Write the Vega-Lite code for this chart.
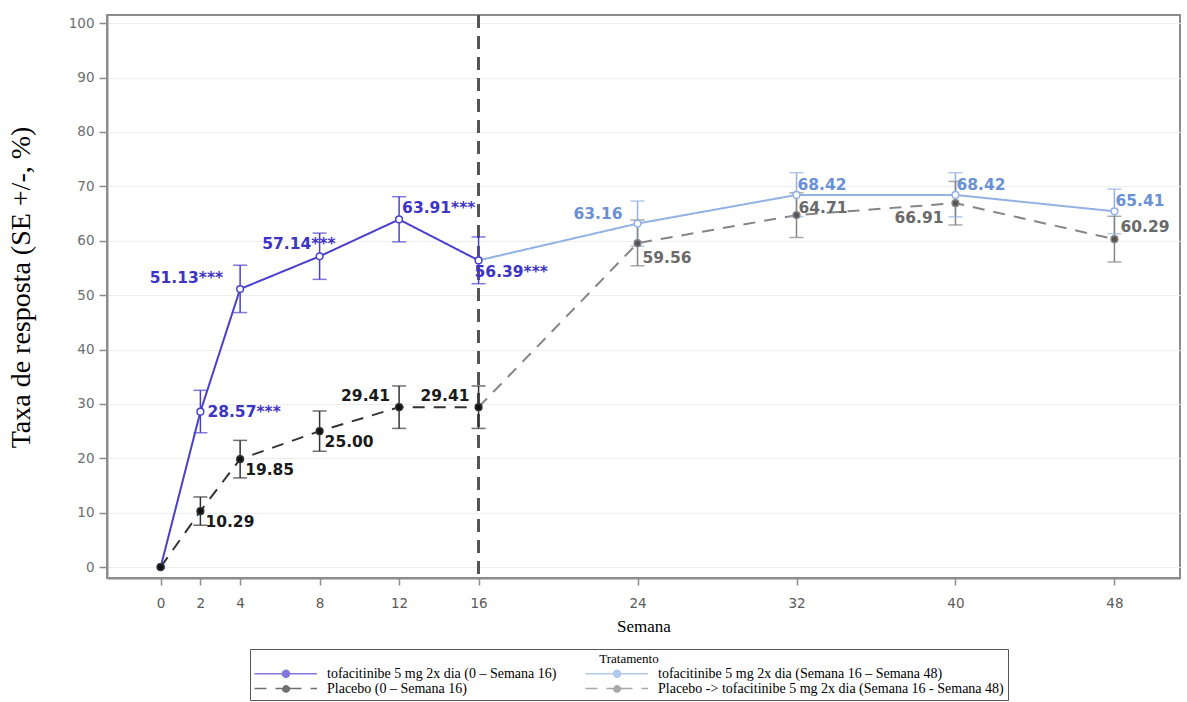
{
  "$schema": "https://vega.github.io/schema/vega-lite/v6.json",
  "autosize": {"type": "none"},
  "width": 1073,
  "height": 563,
  "padding": {"left": 107, "top": 15, "right": 7, "bottom": 124},
  "background": "white",
  "config": {
    "view": {"stroke": "#8c8c8c", "strokeWidth": 2},
    "axisY": {
      "domainColor": "#8c8c8c", "domainWidth": 2, "tickColor": "#8c8c8c", "tickSize": 8, "tickWidth": 1.5,
      "labelFont": "DejaVu Sans", "labelFontSize": 13.5, "labelColor": "#6e6e6e", "labelPadding": 5,
      "grid": true, "gridColor": "#eeeeee", "gridWidth": 1,
      "titleFont": "Liberation Serif", "titleFontSize": 28, "titleFontWeight": "normal", "titleColor": "#000000", "titlePadding": 33, "titleY": 272
    },
    "axisX": {
      "domainColor": "#8c8c8c", "domainWidth": 2, "tickColor": "#8c8c8c", "tickSize": 7, "tickWidth": 1.5,
      "labelFont": "DejaVu Sans", "labelFontSize": 13.5, "labelColor": "#5a5a5a", "labelPadding": 11,
      "grid": false,
      "titleFont": "Liberation Serif", "titleFontSize": 17, "titleFontWeight": "normal", "titleColor": "#000000", "titlePadding": 9
    }
  },
  "data": {
    "values": [
      {"id": "T1", "tratamento": "tofacitinibe 5 mg 2x dia (0 – Semana 16)", "semana": 0, "taxa": 0, "inf": null, "sup": null, "rotulo": null},
      {"id": "T1", "tratamento": "tofacitinibe 5 mg 2x dia (0 – Semana 16)", "semana": 2, "taxa": 28.57, "inf": 24.7, "sup": 32.5, "rotulo": "28.57***"},
      {"id": "T1", "tratamento": "tofacitinibe 5 mg 2x dia (0 – Semana 16)", "semana": 4, "taxa": 51.13, "inf": 46.8, "sup": 55.5, "rotulo": "51.13***"},
      {"id": "T1", "tratamento": "tofacitinibe 5 mg 2x dia (0 – Semana 16)", "semana": 8, "taxa": 57.14, "inf": 52.9, "sup": 61.4, "rotulo": "57.14***"},
      {"id": "T1", "tratamento": "tofacitinibe 5 mg 2x dia (0 – Semana 16)", "semana": 12, "taxa": 63.91, "inf": 59.8, "sup": 68.1, "rotulo": "63.91***"},
      {"id": "T1", "tratamento": "tofacitinibe 5 mg 2x dia (0 – Semana 16)", "semana": 16, "taxa": 56.39, "inf": 52.1, "sup": 60.7, "rotulo": "56.39***"},
      {"id": "P1", "tratamento": "Placebo (0 – Semana 16)", "semana": 0, "taxa": 0, "inf": null, "sup": null, "rotulo": null},
      {"id": "P1", "tratamento": "Placebo (0 – Semana 16)", "semana": 2, "taxa": 10.29, "inf": 7.7, "sup": 12.9, "rotulo": "10.29"},
      {"id": "P1", "tratamento": "Placebo (0 – Semana 16)", "semana": 4, "taxa": 19.85, "inf": 16.4, "sup": 23.3, "rotulo": "19.85"},
      {"id": "P1", "tratamento": "Placebo (0 – Semana 16)", "semana": 8, "taxa": 25.0, "inf": 21.3, "sup": 28.7, "rotulo": "25.00"},
      {"id": "P1", "tratamento": "Placebo (0 – Semana 16)", "semana": 12, "taxa": 29.41, "inf": 25.5, "sup": 33.3, "rotulo": "29.41"},
      {"id": "P1", "tratamento": "Placebo (0 – Semana 16)", "semana": 16, "taxa": 29.41, "inf": 25.5, "sup": 33.3, "rotulo": "29.41"},
      {"id": "T2", "tratamento": "tofacitinibe 5 mg 2x dia (Semana 16 – Semana 48)", "semana": 16, "taxa": 56.39, "inf": null, "sup": null, "rotulo": null},
      {"id": "T2", "tratamento": "tofacitinibe 5 mg 2x dia (Semana 16 – Semana 48)", "semana": 24, "taxa": 63.16, "inf": 59.0, "sup": 67.3, "rotulo": "63.16"},
      {"id": "T2", "tratamento": "tofacitinibe 5 mg 2x dia (Semana 16 – Semana 48)", "semana": 32, "taxa": 68.42, "inf": 64.4, "sup": 72.5, "rotulo": "68.42"},
      {"id": "T2", "tratamento": "tofacitinibe 5 mg 2x dia (Semana 16 – Semana 48)", "semana": 40, "taxa": 68.42, "inf": 64.4, "sup": 72.5, "rotulo": "68.42"},
      {"id": "T2", "tratamento": "tofacitinibe 5 mg 2x dia (Semana 16 – Semana 48)", "semana": 48, "taxa": 65.41, "inf": 61.3, "sup": 69.5, "rotulo": "65.41"},
      {"id": "P2", "tratamento": "Placebo -> tofacitinibe 5 mg 2x dia (Semana 16 - Semana 48)", "semana": 16, "taxa": 29.41, "inf": null, "sup": null, "rotulo": null},
      {"id": "P2", "tratamento": "Placebo -> tofacitinibe 5 mg 2x dia (Semana 16 - Semana 48)", "semana": 24, "taxa": 59.56, "inf": 55.4, "sup": 63.8, "rotulo": "59.56"},
      {"id": "P2", "tratamento": "Placebo -> tofacitinibe 5 mg 2x dia (Semana 16 - Semana 48)", "semana": 32, "taxa": 64.71, "inf": 60.6, "sup": 68.8, "rotulo": "64.71"},
      {"id": "P2", "tratamento": "Placebo -> tofacitinibe 5 mg 2x dia (Semana 16 - Semana 48)", "semana": 40, "taxa": 66.91, "inf": 62.9, "sup": 70.9, "rotulo": "66.91"},
      {"id": "P2", "tratamento": "Placebo -> tofacitinibe 5 mg 2x dia (Semana 16 - Semana 48)", "semana": 48, "taxa": 60.29, "inf": 56.1, "sup": 64.5, "rotulo": "60.29"}
    ]
  },
  "encoding": {
    "x": {"field": "semana", "type": "quantitative", "title": "Semana",
      "scale": {"domain": [-2.7, 51.3], "nice": false, "zero": false},
      "axis": {"values": [0, 2, 4, 8, 12, 16, 24, 32, 40, 48]}},
    "y": {"field": "taxa", "type": "quantitative", "title": "Taxa de resposta (SE +/-, %)",
      "scale": {"domain": [-2, 101.5], "nice": false, "zero": false},
      "axis": {"values": [0, 10, 20, 30, 40, 50, 60, 70, 80, 90, 100]}}
  },
  "layer": [
    {
      "mark": {"type": "rule", "color": "#555555", "strokeDash": [13, 8], "strokeWidth": 2},
      "encoding": {"x": {"datum": 16, "type": "quantitative"}, "y": null}
    },
    {
      "mark": {"type": "line", "strokeWidth": 2},
      "encoding": {
        "detail": {"field": "id"},
        "color": {"field": "tratamento", "type": "nominal",
          "scale": {
            "domain": ["tofacitinibe 5 mg 2x dia (0 – Semana 16)", "tofacitinibe 5 mg 2x dia (Semana 16 – Semana 48)", "Placebo (0 – Semana 16)", "Placebo -> tofacitinibe 5 mg 2x dia (Semana 16 - Semana 48)"],
            "range": ["#4b40cc", "#92b2e4", "#333333", "#858585"]
          },
          "legend": {
            "title": "Tratamento", "orient": "none", "legendX": 143, "legendY": 634,
            "direction": "horizontal", "columns": 2, "columnPadding": 25, "rowPadding": 0,
            "symbolType": "M-1.08,0L3.23,0M4.31,0L8.54,0M3.23,0A0.54,0.54,0,1,0,4.31,0A0.54,0.54,0,1,0,3.23,0",
            "symbolSize": 169, "symbolStrokeWidth": 1.5, "labelOffset": 58,
            "labelFont": "Liberation Serif", "labelFontSize": 14, "labelLimit": 600, "labelColor": "#000000",
            "titleFont": "Liberation Serif", "titleFontSize": 13, "titleFontWeight": "normal", "titleColor": "#000000",
            "titleAnchor": "middle", "titlePadding": 0,
            "strokeColor": "#555555", "fillColor": "white", "padding": 4
          }
        },
        "strokeDash": {"field": "tratamento", "type": "nominal",
          "scale": {
            "domain": ["tofacitinibe 5 mg 2x dia (0 – Semana 16)", "tofacitinibe 5 mg 2x dia (Semana 16 – Semana 48)", "Placebo (0 – Semana 16)", "Placebo -> tofacitinibe 5 mg 2x dia (Semana 16 - Semana 48)"],
            "range": [[1, 0], [1, 0], [12, 9], [12, 9]]
          },
          "legend": {"title": "Tratamento"}
        }
      }
    },
    {
      "transform": [{"filter": "isValid(datum.inf)"}],
      "mark": {"type": "rule", "strokeWidth": 1.5},
      "encoding": {"y": {"field": "inf", "type": "quantitative"}, "y2": {"field": "sup"}, "color": {"field": "tratamento", "type": "nominal"}}
    },
    {
      "transform": [{"filter": "isValid(datum.inf)"}],
      "mark": {"type": "tick", "orient": "horizontal", "size": 14, "thickness": 1.5},
      "encoding": {"y": {"field": "inf", "type": "quantitative"}, "color": {"field": "tratamento", "type": "nominal"}}
    },
    {
      "transform": [{"filter": "isValid(datum.inf)"}],
      "mark": {"type": "tick", "orient": "horizontal", "size": 14, "thickness": 1.5},
      "encoding": {"y": {"field": "sup", "type": "quantitative"}, "color": {"field": "tratamento", "type": "nominal"}}
    },
    {
      "transform": [{"filter": "!(datum.id === 'T2' || datum.id === 'P2') || datum.semana > 16"}],
      "mark": {"type": "point", "filled": false, "size": 45, "strokeWidth": 1.5, "opacity": 1, "fillOpacity": 1},
      "encoding": {
        "color": {"field": "tratamento", "type": "nominal"},
        "fill": {"field": "tratamento", "type": "nominal",
          "scale": {
            "domain": ["tofacitinibe 5 mg 2x dia (0 – Semana 16)", "tofacitinibe 5 mg 2x dia (Semana 16 – Semana 48)", "Placebo (0 – Semana 16)", "Placebo -> tofacitinibe 5 mg 2x dia (Semana 16 - Semana 48)"],
            "range": ["#ffffff", "#ffffff", "#111111", "#555555"]
          },
          "legend": {"title": "Tratamento"}
        }
      }
    },
    {
      "transform": [{"filter": "datum.id === 'T1' && datum.semana === 2"}],
      "mark": {"type": "text", "align": "left", "baseline": "middle", "dx": 7, "dy": 0, "font": "DejaVu Sans", "fontSize": 15.5, "fontWeight": "bold", "color": "#3d33c4"},
      "encoding": {"text": {"field": "rotulo"}}
    },
    {
      "transform": [{"filter": "datum.id === 'T1' && datum.semana === 4"}],
      "mark": {"type": "text", "align": "right", "baseline": "middle", "dx": -17, "dy": -11, "font": "DejaVu Sans", "fontSize": 15.5, "fontWeight": "bold", "color": "#3d33c4"},
      "encoding": {"text": {"field": "rotulo"}}
    },
    {
      "transform": [{"filter": "datum.id === 'T1' && datum.semana === 8"}],
      "mark": {"type": "text", "align": "right", "baseline": "middle", "dx": 16, "dy": -12, "font": "DejaVu Sans", "fontSize": 15.5, "fontWeight": "bold", "color": "#3d33c4"},
      "encoding": {"text": {"field": "rotulo"}}
    },
    {
      "transform": [{"filter": "datum.id === 'T1' && datum.semana === 12"}],
      "mark": {"type": "text", "align": "left", "baseline": "middle", "dx": 3, "dy": -11, "font": "DejaVu Sans", "fontSize": 15.5, "fontWeight": "bold", "color": "#3d33c4"},
      "encoding": {"text": {"field": "rotulo"}}
    },
    {
      "transform": [{"filter": "datum.id === 'T1' && datum.semana === 16"}],
      "mark": {"type": "text", "align": "left", "baseline": "middle", "dx": -4, "dy": 12, "font": "DejaVu Sans", "fontSize": 15.5, "fontWeight": "bold", "color": "#3d33c4"},
      "encoding": {"text": {"field": "rotulo"}}
    },
    {
      "transform": [{"filter": "datum.id === 'P1' && datum.semana > 0 && datum.semana < 12"}],
      "mark": {"type": "text", "align": "left", "baseline": "middle", "dx": 5, "dy": 11, "font": "DejaVu Sans", "fontSize": 15.5, "fontWeight": "bold", "color": "#1a1a1a"},
      "encoding": {"text": {"field": "rotulo"}}
    },
    {
      "transform": [{"filter": "datum.id === 'P1' && datum.semana >= 12"}],
      "mark": {"type": "text", "align": "right", "baseline": "middle", "dx": -9, "dy": -11, "font": "DejaVu Sans", "fontSize": 15.5, "fontWeight": "bold", "color": "#1a1a1a"},
      "encoding": {"text": {"field": "rotulo"}}
    },
    {
      "transform": [{"filter": "datum.id === 'T2' && datum.semana === 24"}],
      "mark": {"type": "text", "align": "right", "baseline": "middle", "dx": -15, "dy": -10, "font": "DejaVu Sans", "fontSize": 15.5, "fontWeight": "bold", "color": "#6a90d6"},
      "encoding": {"text": {"field": "rotulo"}}
    },
    {
      "transform": [{"filter": "datum.id === 'T2' && datum.semana > 24"}],
      "mark": {"type": "text", "align": "left", "baseline": "middle", "dx": 1, "dy": -10, "font": "DejaVu Sans", "fontSize": 15.5, "fontWeight": "bold", "color": "#6a90d6"},
      "encoding": {"text": {"field": "rotulo"}}
    },
    {
      "transform": [{"filter": "datum.id === 'P2' && datum.semana === 24"}],
      "mark": {"type": "text", "align": "left", "baseline": "middle", "dx": 5, "dy": 15, "font": "DejaVu Sans", "fontSize": 15.5, "fontWeight": "bold", "color": "#6a6a6a"},
      "encoding": {"text": {"field": "rotulo"}}
    },
    {
      "transform": [{"filter": "datum.id === 'P2' && datum.semana === 32"}],
      "mark": {"type": "text", "align": "left", "baseline": "middle", "dx": 2, "dy": -7, "font": "DejaVu Sans", "fontSize": 15.5, "fontWeight": "bold", "color": "#6a6a6a"},
      "encoding": {"text": {"field": "rotulo"}}
    },
    {
      "transform": [{"filter": "datum.id === 'P2' && datum.semana === 40"}],
      "mark": {"type": "text", "align": "right", "baseline": "middle", "dx": -12, "dy": 15, "font": "DejaVu Sans", "fontSize": 15.5, "fontWeight": "bold", "color": "#6a6a6a"},
      "encoding": {"text": {"field": "rotulo"}}
    },
    {
      "transform": [{"filter": "datum.id === 'P2' && datum.semana === 48"}],
      "mark": {"type": "text", "align": "left", "baseline": "middle", "dx": 6, "dy": -12, "font": "DejaVu Sans", "fontSize": 15.5, "fontWeight": "bold", "color": "#6a6a6a"},
      "encoding": {"text": {"field": "rotulo"}}
    }
  ]
}
